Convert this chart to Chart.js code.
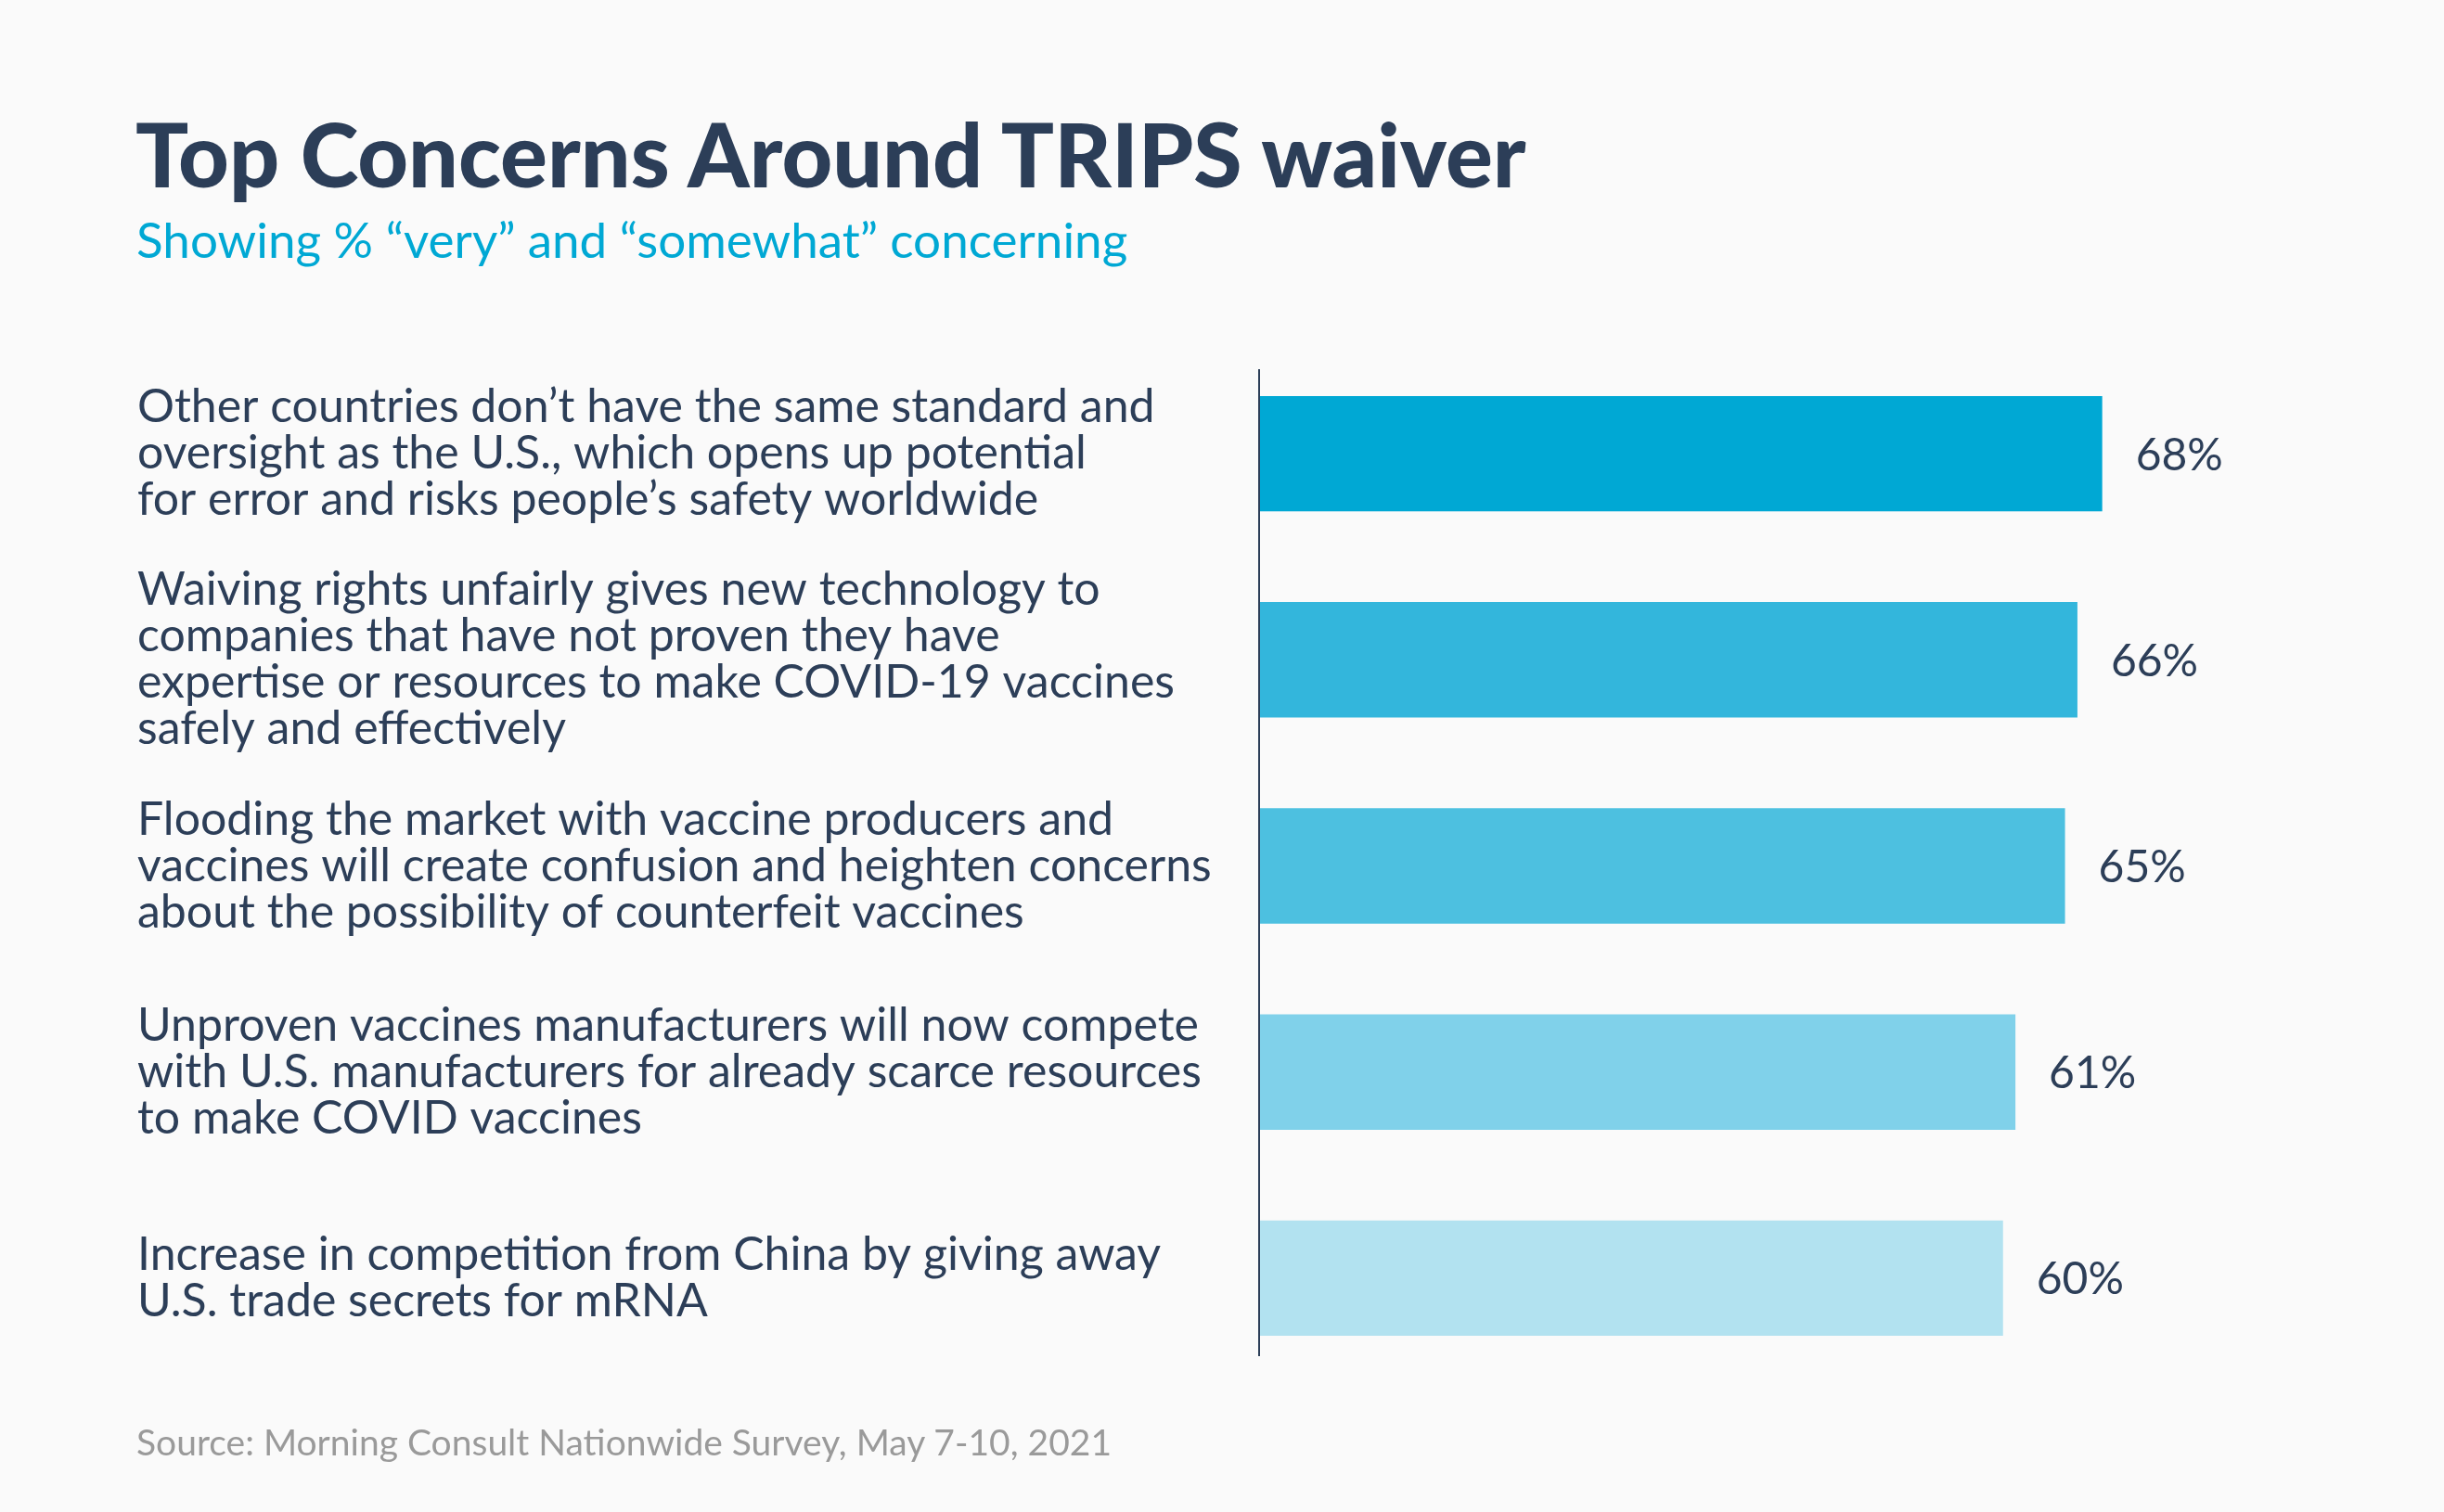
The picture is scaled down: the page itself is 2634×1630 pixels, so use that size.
<!DOCTYPE html>
<html>
<head>
<meta charset="utf-8">
<script src="https://cdn.jsdelivr.net/npm/chart.js@4.4.0/dist/chart.umd.min.js"></script>
<style>
  html, body { margin: 0; padding: 0; background: #fafafa; }
  body { width: 2634px; height: 1630px; position: relative; overflow: hidden; font-family: Lato, "Open Sans", sans-serif; }
  #wrap { position: absolute; left: 0; top: 0; width: 2634px; height: 1630px; }
  .title { position: absolute; left: 146px; top: 118px; font-size: 95px; font-weight: 900; color: #2c3e58; line-height: 1; white-space: nowrap; }
  .subtitle { position: absolute; left: 147px; top: 231px; font-size: 53px; color: #00a8d4; line-height: 1; white-space: nowrap; }
  .source { position: absolute; left: 147px; top: 1535px; font-size: 39px; color: #9a9a9a; line-height: 1; white-space: nowrap; }
</style>
</head>
<body>
<div id="wrap"><canvas id="myChart"></canvas></div>
<div class="title">Top Concerns Around TRIPS waiver</div>
<div class="subtitle">Showing % “very” and “somewhat” concerning</div>
<div class="source">Source: Morning Consult Nationwide Survey, May 7-10, 2021</div>
<script>
const concerns = [
  ["Other countries don’t have the same standard and", "oversight as the U.S., which opens up potential", "for error and risks people’s safety worldwide"],
  ["Waiving rights unfairly gives new technology to", "companies that have not proven they have", "expertise or resources to make COVID-19 vaccines", "safely and effectively"],
  ["Flooding the market with vaccine producers and", "vaccines will create confusion and heighten concerns", "about the possibility of counterfeit vaccines"],
  ["Unproven vaccines manufacturers will now compete", "with U.S. manufacturers for already scarce resources", "to make COVID vaccines"],
  ["Increase in competition from China by giving away", "U.S. trade secrets for mRNA"]
];
const pctConcerned = [68, 66, 65, 61, 60];
const barColors = ["#00a8d4", "#33b6dc", "#4dc0e0", "#80d1ea", "#b2e2f0"];

const navy = "#2c3e58";

// value labels at the end of each bar
const valueLabels = {
  id: "valueLabels",
  afterDatasetsDraw(chart) {
    const ctx = chart.ctx;
    const meta = chart.getDatasetMeta(0);
    ctx.save();
    ctx.font = "48px Lato";
    ctx.fillStyle = navy;
    ctx.textAlign = "left";
    ctx.textBaseline = "middle";
    meta.data.forEach((bar, i) => {
      ctx.fillText(pctConcerned[i] + "%", bar.x + 36, bar.y + 2);
    });
    ctx.restore();
  }
};

// the vertical axis line, a bit shorter than the chart area
const axisLine = {
  id: "axisLine",
  afterDatasetsDraw(chart) {
    const ctx = chart.ctx;
    const x = chart.scales.x.getPixelForValue(0);
    ctx.save();
    ctx.strokeStyle = navy;
    ctx.lineWidth = 2;
    ctx.beginPath();
    ctx.moveTo(x, chart.chartArea.top + 20);
    ctx.lineTo(x, chart.chartArea.bottom - 27);
    ctx.stroke();
    ctx.restore();
  }
};

const ctx = document.getElementById('myChart');

const myChart = new Chart(ctx, {
  type: 'bar',
  data: {
    labels: concerns,
    datasets: [{
      data: pctConcerned,
      backgroundColor: barColors,
      borderWidth: 0,
      categoryPercentage: 1,
      barPercentage: 0.56
    }]
  },
  options: {
    indexAxis: 'y',
    responsive: true,
    maintainAspectRatio: false,
    animation: false,
    layout: {
      padding: { left: 148, top: 378, right: 208, bottom: 141 }
    },
    plugins: {
      legend: { display: false },
      tooltip: { enabled: false }
    },
    scales: {
      x: {
        display: false,
        min: 0,
        max: 80
      },
      y: {
        grid: { display: false, drawTicks: false },
        border: { display: false },
        afterFit(scale) {
          scale.width = 1209;
        },
        ticks: {
          crossAlign: 'far',
          color: navy,
          padding: 0,
          font: { family: 'Lato', size: 50, lineHeight: 1.0 }
        }
      }
    }
  },
  plugins: [valueLabels, axisLine]
});
</script>
</body>
</html>
